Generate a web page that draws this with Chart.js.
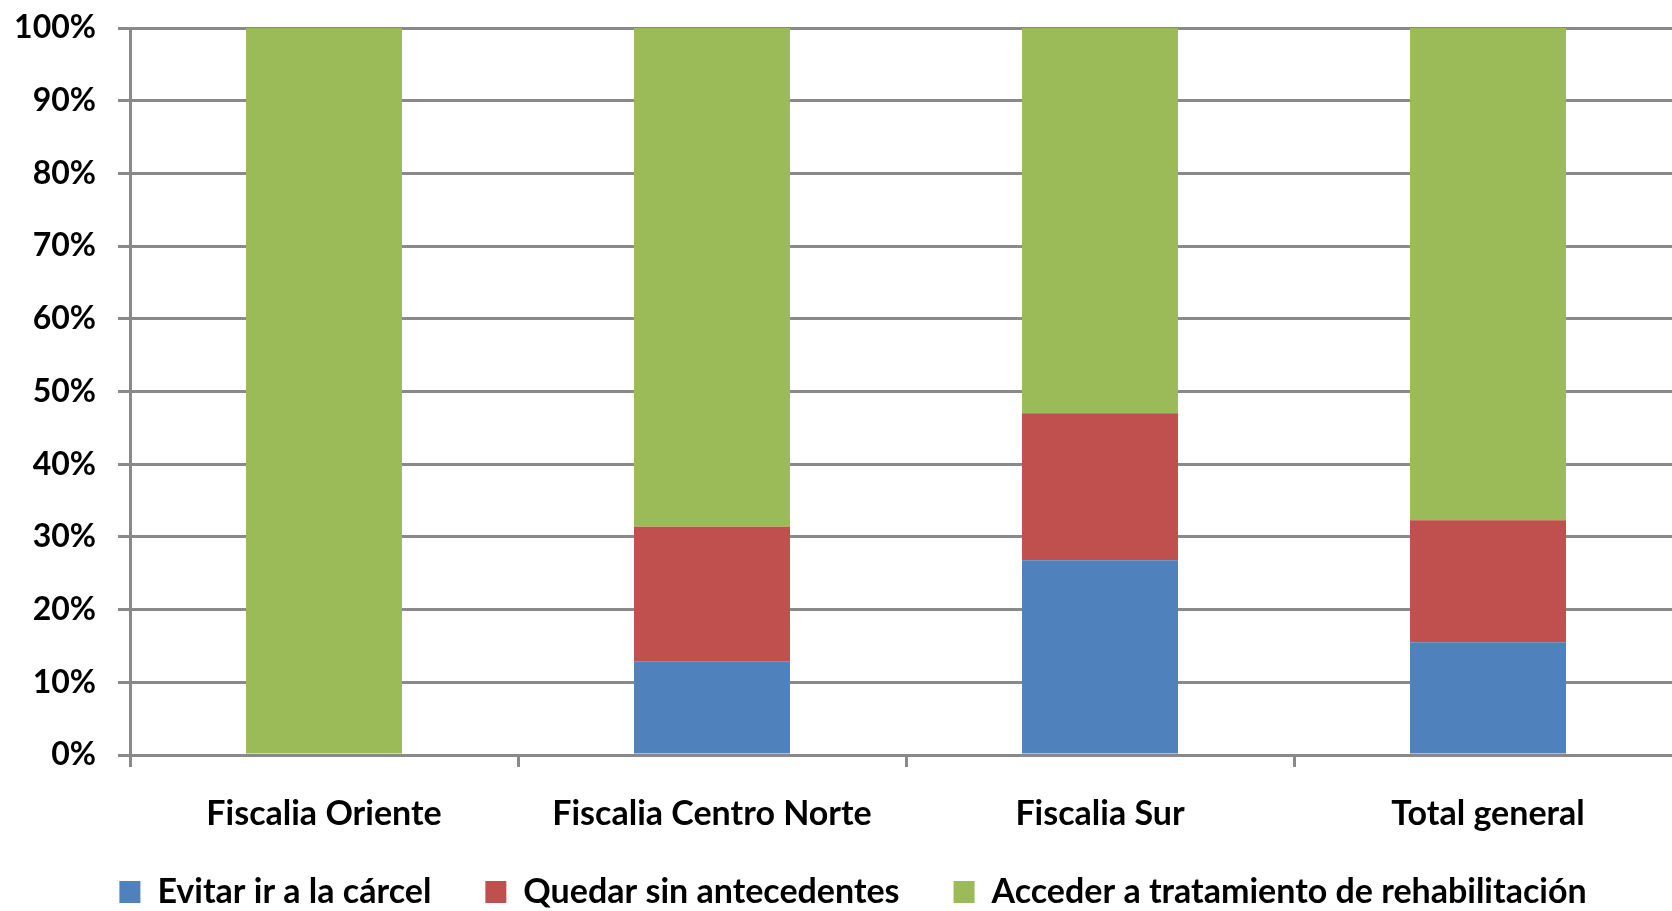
<!DOCTYPE html>
<html>
<head>
<meta charset="utf-8">
<script src="https://cdn.jsdelivr.net/npm/chart.js@4.4.1/dist/chart.umd.min.js"></script>
<style>
  html, body { margin: 0; padding: 0; background: #fff; overflow: hidden; }
  #wrap { width: 1682px; height: 911px; position: relative; }
</style>
</head>
<body>
<div id="wrap"><canvas id="chart"></canvas></div>
<script>
const categories = ["Fiscalia Oriente", "Fiscalia Centro Norte", "Fiscalia Sur", "Total general"]
const evitarCarcel = [0, 12.9, 26.8, 15.5]
const sinAntecedentes = [0, 18.5, 20.2, 16.8]
const tratamiento = [100, 68.6, 53.0, 67.7]
const yTicks = [0, 10, 20, 30, 40, 50, 60, 70, 80, 90, 100]

const gridColor = "#898989"
const family = "Lato, 'Open Sans', sans-serif"
const yFont = { family: family, size: 32, weight: "bold" }
const labelFont = { family: family, size: 34, weight: "bold" }

// legend sits a bit right of centre in the original; also let the
// category labels overflow their box so descenders aren't clipped
const layoutTweaks = {
  id: "layoutTweaks",
  afterLayout(chart) {
    if (chart.legend) {
      chart.legend.left += 12
      chart.legend.right += 12
    }
    chart.scales.x.bottom += 24
  },
}

const ctx = document.getElementById("chart").getContext("2d")

new Chart(ctx, {
  type: "bar",
  data: {
    labels: categories,
    datasets: [
      { label: "Evitar ir a la cárcel", data: evitarCarcel, backgroundColor: "#4F81BD" },
      { label: "Quedar sin antecedentes", data: sinAntecedentes, backgroundColor: "#C0504D" },
      { label: "Acceder a tratamiento de rehabilitación", data: tratamiento, backgroundColor: "#9BBB59" },
    ],
  },
  options: {
    responsive: true,
    maintainAspectRatio: false,
    animation: false,
    layout: { padding: { top: 28, left: 0, right: 0, bottom: -8 } },
    datasets: {
      bar: { categoryPercentage: 1, barPercentage: 0.402 },
    },
    scales: {
      x: {
        stacked: true,
        offset: true,
        grid: {
          offset: true,
          drawOnChartArea: false,
          drawTicks: true,
          tickLength: 12,
          color: gridColor,
          lineWidth: 3,
        },
        border: { display: false },
        ticks: { color: "#000", font: labelFont, padding: 27, maxRotation: 0 },
        afterFit: (scale) => { scale.height = 66 },
      },
      y: {
        stacked: true,
        min: 0,
        max: 100,
        afterBuildTicks: (scale) => { scale.ticks = yTicks.map((v) => ({ value: v })) },
        grid: { color: gridColor, lineWidth: 3, tickLength: 12 },
        border: { display: true, color: gridColor, width: 3 },
        ticks: {
          color: "#000",
          font: yFont,
          padding: 22,
          callback: (value) => value + "%",
        },
        afterFit: (scale) => {
          scale.width = 130
          scale.paddingTop = 0
          scale.paddingBottom = 0
        },
      },
    },
    plugins: {
      legend: {
        position: "bottom",
        labels: {
          color: "#000",
          font: labelFont,
          boxWidth: 21,
          boxHeight: 22,
          padding: 54,
        },
      },
      tooltip: { enabled: false },
    },
  },
  plugins: [layoutTweaks],
})
</script>
</body>
</html>
